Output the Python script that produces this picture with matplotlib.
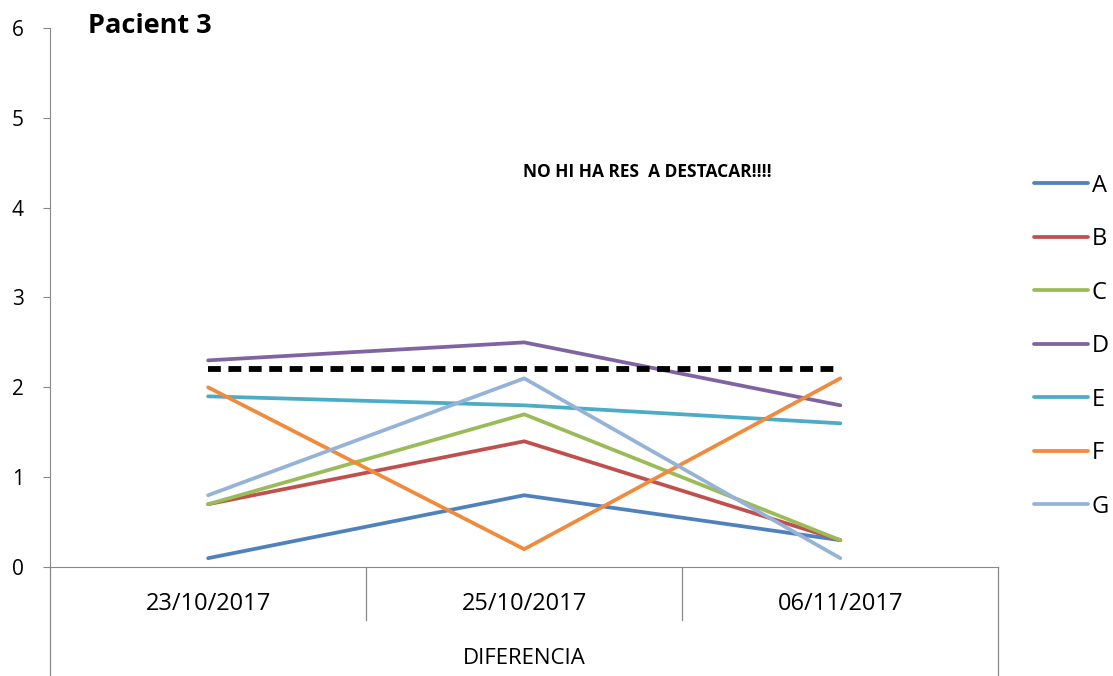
import matplotlib
matplotlib.use("Agg")
import matplotlib.pyplot as plt

# data
dates = ["23/10/2017", "25/10/2017", "06/11/2017"]
series_names = ["A", "B", "C", "D", "E", "F", "G"]
A = [0.1, 0.8, 0.3]
B = [0.7, 1.4, 0.3]
C = [0.7, 1.7, 0.3]
D = [2.3, 2.5, 1.8]
E = [1.9, 1.8, 1.6]
F = [2.0, 0.2, 2.1]
G = [0.8, 2.1, 0.1]
threshold = [2.2, 2.2, 2.2]
colors = ["#4F81BD", "#C0504D", "#9BBB59", "#8064A2", "#4BACC6", "#F08A3C", "#95B3D7"]

plt.rcParams["font.family"] = ["Open Sans", "DejaVu Sans"]

fig = plt.figure(figsize=(11.13, 6.76), dpi=100)
ax = fig.add_axes([0.045, 0.161, 0.852, 0.798])

x = range(len(dates))
for name, vals, c in zip(series_names, [A, B, C, D, E, F, G], colors):
    ax.plot(x, vals, color=c, lw=2.7, label=name, solid_capstyle="round")
ax.plot(x, threshold, color="black", lw=4.2, ls=(0, (2.2, 1.3)), zorder=5)

ax.set_xlim(-0.5, 2.5)
ax.set_ylim(0, 6)
ax.set_yticks(range(7))
ax.tick_params(axis="y", labelsize=15, length=5, color="#888888", pad=14)
ax.set_xticks([])
for s in ["top", "right"]:
    ax.spines[s].set_visible(False)
ax.spines["left"].set_color("#888888")
ax.spines["bottom"].set_color("#888888")

# category box under the axis
tr = ax.get_xaxis_transform()
for xv in [0.5, 1.5]:
    ax.plot([xv, xv], [0, -0.098], transform=tr, color="#888888", lw=0.9, clip_on=False)
for xv in [-0.5, 2.5]:
    ax.plot([xv, xv], [0, -0.21], transform=tr, color="#888888", lw=0.9, clip_on=False)
for xv, d in zip(x, dates):
    ax.text(xv, -0.068, d, transform=tr, ha="center", va="center", fontsize=17)
ax.text(1, -0.17, "DIFERENCIA", transform=tr, ha="center", va="center", fontsize=16)

ax.text(0.04, 1.003, "Pacient 3", transform=ax.transAxes, fontsize=19.5, fontweight="bold",
        ha="left", va="center")
ax.text(1.39, 4.4, "NO HI HA RES  A DESTACAR!!!!", fontsize=12.5, fontweight="bold",
        ha="center", va="center")

fig.legend(loc="center left", bbox_to_anchor=(0.91, 0.488), frameon=False, fontsize=17,
           handlelength=2.3, handletextpad=0.15, labelspacing=1.25)

fig.savefig("out.png", dpi=100)
